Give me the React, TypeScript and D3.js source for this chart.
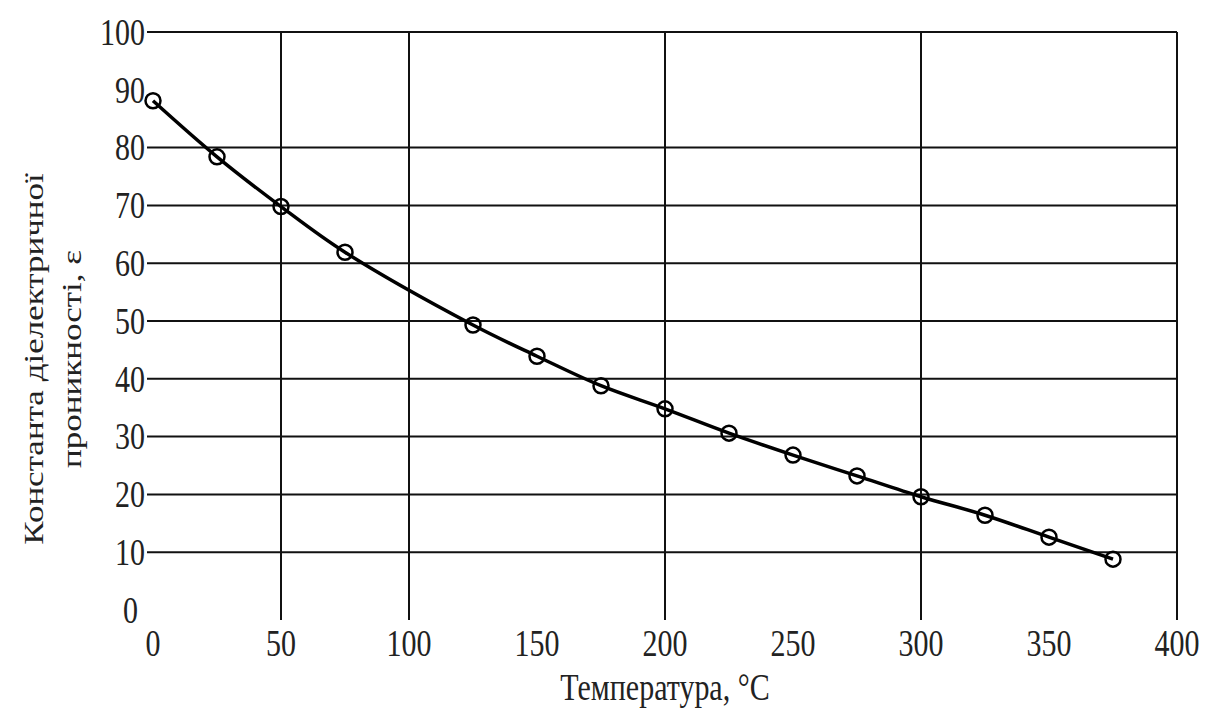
import React from "react";
import { scaleLinear, line, curveCatmullRom } from "d3";

const width = 1210;
const height = 709;

// temperature, °C and dielectric constant
const temps = [0, 25, 50, 75, 125, 150, 175, 200, 225, 250, 275, 300, 325, 350, 375];
const epsValues = [88.1, 78.4, 69.8, 61.9, 49.3, 43.9, 38.8, 34.8, 30.6, 26.8, 23.2, 19.6, 16.4, 12.6, 8.8];

const xTicks = [0, 50, 100, 150, 200, 250, 300, 350, 400];
const xTickLabels = ["0", "50", "100", "150", "200", "250", "300", "350", "400"];
const yTicks = [0, 10, 20, 30, 40, 50, 60, 70, 80, 90, 100];
const xGrid = [50, 100, 200, 300, 400];
const yGrid = [10, 20, 30, 40, 50, 60, 70, 80, 100];

const xLabel = "Температура, °C";
const yLabelLines = ["Константа діелектричної", "проникності, ε"];

const font = "'Liberation Serif', 'Times New Roman', serif";
const stretch = 1.25;

const xScale = scaleLinear().domain([0, 400]).range([153, 1177]);
const yScale = scaleLinear().domain([0, 100]).range([610, 32]);

const points = temps.map((t, i) => ({ t, e: epsValues[i] }));

const curve = line<{ t: number; e: number }>()
  .x((d) => xScale(d.t))
  .y((d) => yScale(d.e))
  .curve(curveCatmullRom.alpha(0.5));

export default function App() {
  return (
    <svg
      width={width}
      height={height}
      style={{ position: "absolute", left: 0, top: 0, background: "#fff" }}
    >
      <rect width={width} height={height} fill="#fff" />
      {/* grid */}
      {yGrid.map((v) => (
        <line
          key={"h" + v}
          x1={147}
          x2={xScale(400)}
          y1={yScale(v)}
          y2={yScale(v)}
          stroke="#111"
          strokeWidth={2}
        />
      ))}
      {xGrid.map((v) => (
        <line
          key={"v" + v}
          x1={xScale(v)}
          x2={xScale(v)}
          y1={yScale(100)}
          y2={620}
          stroke="#111"
          strokeWidth={2}
        />
      ))}
      {/* y tick labels */}
      {yTicks.map((v) => (
        <text
          key={"yt" + v}
          transform={`translate(${v === 0 ? 138 : 145},${yScale(v)}) scale(1,${stretch})`}
          dy="0.34em"
          textAnchor="end"
          fontFamily={font}
          fontSize={30}
          fill="#222"
        >
          {v}
        </text>
      ))}
      {/* x tick labels */}
      {xTicks.map((v, i) => (
        <text
          key={"xt" + v}
          transform={`translate(${xScale(v)},${656}) scale(1,${stretch})`}
          textAnchor="middle"
          fontFamily={font}
          fontSize={30}
          fill="#222"
        >
          {xTickLabels[i]}
        </text>
      ))}
      {/* curve and markers */}
      <path d={curve(points) || ""} fill="none" stroke="#000" strokeWidth={3.5} />
      {points.map((d) => (
        <circle
          key={"p" + d.t}
          cx={xScale(d.t)}
          cy={yScale(d.e)}
          r={7.5}
          fill="none"
          stroke="#000"
          strokeWidth={2.5}
        />
      ))}
      {/* axis titles */}
      <text
        transform={`translate(${xScale(200)},${700}) scale(1,${stretch})`}
        textAnchor="middle"
        fontFamily={font}
        fontSize={30}
        fill="#222"
      >
        {xLabel}
      </text>
      {yLabelLines.map((s, i) => (
        <text
          key={"yl" + i}
          transform={`translate(${43 + i * 38},${359}) scale(1,${stretch}) rotate(-90)`}
          textAnchor="middle"
          fontFamily={font}
          fontSize={28}
          fill="#222"
        >
          {s}
        </text>
      ))}
    </svg>
  );
}
